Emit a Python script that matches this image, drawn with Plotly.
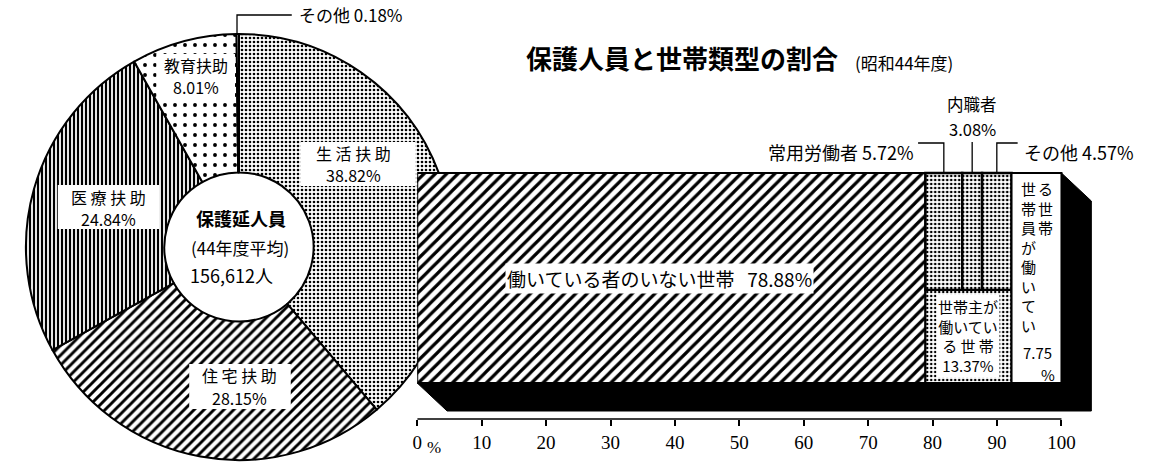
import plotly.graph_objects as go

W, H = 1170, 462
JP = "Noto Sans CJK JP"
NUM = "Liberation Serif"

# ---------------- data ----------------
pie_labels = ["生活扶助", "住宅扶助", "医療扶助", "教育扶助", "その他"]
pie_values = [38.82, 28.15, 24.84, 8.01, 0.18]
center_title = "保護延人員"
center_sub = "(44年度平均)"
center_total = "156,612人"

main_label = "働いている者のいない世帯"
main_value = 78.88
head_label = "世帯主が働いている世帯"
head_value = 13.37
head_sub_labels = ["常用労働者", "内職者", "その他"]
head_sub_values = [5.72, 3.08, 4.57]
member_label = "世帯員が働いている世帯"
member_value = 7.75

tick_values = [0, 10, 20, 30, 40, 50, 60, 70, 80, 90, 100]
tick_text = ["0", "10", "20", "30", "40", "50", "60", "70", "80", "90", "100"]

title_text = "保護人員と世帯類型の割合"
title_sub = "(昭和44年度)"

# ---------------- helpers ----------------
def px(x, y):
    return x / W, 1 - y / H

def pfmt(v):
    return f"{v:.2f}%"

fig = go.Figure()

# ---------------- pie ----------------
cx0, cy0, r = 235, 247, 214
fig.add_trace(go.Pie(
    labels=pie_labels, values=pie_values, sort=False, direction="clockwise",
    rotation=0, hole=0.35, textinfo="none", hoverinfo="skip", showlegend=False,
    domain=dict(x=[(cx0 - r) / W, (cx0 + r) / W], y=[1 - (cy0 + r) / H, 1 - (cy0 - r) / H]),
    marker=dict(
        colors=["white"] * 5,
        line=dict(color="black", width=2),
        pattern=dict(shape=[".", "/", "|", ".", ""], size=[4, 7, 4, 10, 6],
                     solidity=[0.35, 0.42, 0.55, 0.12, 0.3],
                     fgcolor="black", bgcolor="white", fillmode="replace"),
    ),
))

# ---------------- stacked bar ----------------
split = 0.443  # vertical split of head segment (layout)
bar_line = dict(color="black", width=2)

fig.add_trace(go.Bar(
    orientation="h", y=[0.5], x=[main_value], base=[0], width=[1],
    marker=dict(color="white", line=bar_line,
                pattern=dict(shape="/", size=8, solidity=0.4, fgcolor="black",
                             bgcolor="white", fillmode="replace")),
    hoverinfo="skip", showlegend=False,
))

bases = []
acc = main_value
for v in head_sub_values:
    bases.append(acc)
    acc += v
fig.add_trace(go.Bar(
    orientation="h", y=[(split + 1) / 2] * 3, x=head_sub_values, base=bases,
    width=[1 - split] * 3,
    marker=dict(color="white", line=dict(color="black", width=2.5),
                pattern=dict(shape=".", size=4, solidity=0.35, fgcolor="black",
                             bgcolor="white", fillmode="replace")),
    hoverinfo="skip", showlegend=False,
))
fig.add_trace(go.Bar(
    orientation="h", y=[split / 2], x=[head_value], base=[main_value], width=[split],
    marker=dict(color="white", line=bar_line,
                pattern=dict(shape=".", size=4, solidity=0.3, fgcolor="black",
                             bgcolor="white", fillmode="replace")),
    hoverinfo="skip", showlegend=False,
))
fig.add_trace(go.Bar(
    orientation="h", y=[0.5], x=[member_value], base=[main_value + head_value], width=[1],
    marker=dict(color="white", line=bar_line),
    hoverinfo="skip", showlegend=False,
))

total = main_value + head_value + member_value

# ---------------- axes geometry ----------------
x0px, pxper = 414, 6.47
xmax = 105
ybot_px, ytop_px = 419, 90
bar_top_px, bar_bot_px = 173, 383
unit = bar_bot_px - bar_top_px
yr0 = -(ybot_px - bar_bot_px) / unit
yr1 = 1 + (bar_top_px - ytop_px) / unit

def ydata(ypx):
    return (bar_bot_px - ypx) / unit

shapes = []
# 3D shadow of the bar
dx = 30 / pxper
dy = 28 / unit
shapes.append(dict(
    type="path", xref="x", yref="y", layer="below",
    path=f"M 0,0 L {dx},{-dy} L {total + dx},{-dy} L {total + dx},{1 - dy} L {total},1 L {total},0 Z",
    fillcolor="black", line=dict(color="black", width=1),
))
# axis baseline 0..100
shapes.append(dict(type="line", xref="x", yref="y domain", x0=tick_values[0], x1=tick_values[-1],
                   y0=0, y1=0, line=dict(color="black", width=1.5)))

# leader lines for head sub-segments
mids = [b + v / 2 for b, v in zip(bases, head_sub_values)]
ylead = ydata(143)
xl_left = (917 - x0px) / pxper
xl_right = (1017 - x0px) / pxper
shapes.append(dict(type="path", xref="x", yref="y",
                   path=f"M {mids[0]},1 L {mids[0]},{ylead} L {xl_left},{ylead}",
                   line=dict(color="black", width=1.3)))
shapes.append(dict(type="line", xref="x", yref="y", x0=mids[1], x1=mids[1], y0=1, y1=ydata(142),
                   line=dict(color="black", width=1.3)))
shapes.append(dict(type="path", xref="x", yref="y",
                   path=f"M {mids[2]},1 L {mids[2]},{ylead} L {xl_right},{ylead}",
                   line=dict(color="black", width=1.3)))
# leader for pie "その他"
p1 = px(cx0 - 2, 33)
p2 = px(cx0 - 2, 15)
p3 = px(288, 15)
shapes.append(dict(type="path", xref="paper", yref="paper",
                   path=f"M {p1[0]},{p1[1]} L {p2[0]},{p2[1]} L {p3[0]},{p3[1]}",
                   line=dict(color="black", width=1.3)))

# white label boxes on the pie (drawn above the pie, below the texts)
def white_box(xa, ya, xb, yb):
    a = px(xa, ya)
    b = px(xb, yb)
    return dict(type="rect", xref="paper", yref="paper", layer="above",
                x0=a[0], y0=a[1], x1=b[0], y1=b[1], fillcolor="white", line=dict(width=0))

pie_boxes = [(297, 142, 412, 186), (185, 364, 287, 409), (53, 185, 155, 229), (152, 54, 231, 97)]
for bx in pie_boxes:
    shapes.append(white_box(*bx))

# ---------------- annotations ----------------
ann = []

def a_px(text, x, y, size=15, xanchor="center", bg=None, family=JP):
    xx, yy = px(x, y)
    d = dict(text=text, x=xx, y=yy, xref="paper", yref="paper", xanchor=xanchor,
             yanchor="middle", showarrow=False,
             font=dict(size=size, family=family, color="black"), borderpad=1)
    if bg:
        d["bgcolor"] = bg
    return d

def a_data(text, x, y, size=15, xanchor="center", bg=None, xshift=0, align="center"):
    d = dict(text=text, x=x, y=y, xref="x", yref="y", xanchor=xanchor, yanchor="middle",
             showarrow=False, xshift=xshift, align=align,
             font=dict(size=size, family=JP, color="black"), borderpad=1)
    if bg:
        d["bgcolor"] = bg
    return d

def spaced(s):
    return " ".join(list(s))

# pie labels: (name line, value line) centre x, name y, value y
pie_text_pos = [(350, 153, 175), (236, 375, 398), (104, 197, 219), (192, 65, 87)]
for i, (tx, ty1, ty2) in enumerate(pie_text_pos):
    name = pie_labels[i] if i == 3 else spaced(pie_labels[i])
    ann.append(a_px(name, tx, ty1, 16))
    ann.append(a_px(pfmt(pie_values[i]), tx, ty2, 16))
ann.append(a_px(f"{pie_labels[4]} {pfmt(pie_values[4])}", 293, 15, 17, xanchor="left"))
# pie centre
ann.append(a_px(f"<b>{center_title}</b>", 237, 218, 18))
ann.append(a_px(center_sub, 236, 247, 17))
ann.append(a_px(center_total, 227, 275, 18))

# title
ann.append(a_px(f"<b>{title_text}</b>", 521, 58, 26, xanchor="left"))
ann.append(a_px(title_sub, 852, 63, 17, xanchor="left"))

# bar labels
ann.append(a_data(f"{main_label}   {pfmt(main_value)}", main_value / 2, 0.5, 19, bg="white", xshift=-12))
ann.append(a_data(f"{head_sub_labels[0]} {pfmt(head_sub_values[0])}", xl_left, ydata(152), 18,
                  xanchor="right", xshift=-2))
ann.append(a_data(head_sub_labels[1], mids[1], ydata(104), 16.5))
ann.append(a_data(pfmt(head_sub_values[1]), mids[1], ydata(129), 16.5))
ann.append(a_data(f"{head_sub_labels[2]} {pfmt(head_sub_values[2])}", xl_right, ydata(152), 18,
                  xanchor="left", xshift=4))
ann.append(a_data("世帯主が<br>働いてい<br>る 世 帯<br>" + pfmt(head_value),
                  main_value + head_value / 2, ydata(336), 15, bg="white"))

# vertical text for member segment
mem_mid = main_value + head_value + member_value / 2
col_left = member_label[:8]
col_right = member_label[8:]
ann.append(a_data("<br>".join(col_left), mem_mid, ydata(257), 15, xshift=-8))
ann.append(a_data("<br>".join(col_right), mem_mid, ydata(208), 15, xshift=9))
ann.append(a_data(f"{member_value:.2f}", mem_mid, ydata(352), 15, xshift=1))
ann.append(a_data("%", mem_mid, ydata(374), 15, xshift=11))

# "%" next to 0 tick
ann.append(a_px("%", 431, 447, 17, family=NUM))

fig.update_layout(
    width=W, height=H, autosize=False,
    margin=dict(l=0, r=0, t=0, b=0, pad=0),
    paper_bgcolor="white", plot_bgcolor="rgba(0,0,0,0)",
    font=dict(family=JP, color="black"),
    barmode="overlay", showlegend=False,
    shapes=shapes, annotations=ann,
    xaxis=dict(domain=[x0px / W, (x0px + xmax * pxper) / W], range=[0, xmax],
               tickmode="array", tickvals=tick_values, ticktext=tick_text,
               ticks="outside", ticklen=6, tickwidth=1.5, tickcolor="black",
               tickfont=dict(family=NUM, size=19, color="black"),
               showgrid=False, zeroline=False, showline=False, fixedrange=True),
    yaxis=dict(domain=[1 - ybot_px / H, 1 - ytop_px / H], range=[yr0, yr1],
               visible=False, showgrid=False, zeroline=False, fixedrange=True),
)

post = ("var gd=document.getElementById('{plot_id}');"
        "var pie=gd.querySelector('.pielayer');var cart=gd.querySelector('.cartesianlayer');"
        "if(pie&&cart){cart.parentNode.insertBefore(pie,cart);}")
fig.write_html("out.html", post_script=post, config={"displayModeBar": False})
